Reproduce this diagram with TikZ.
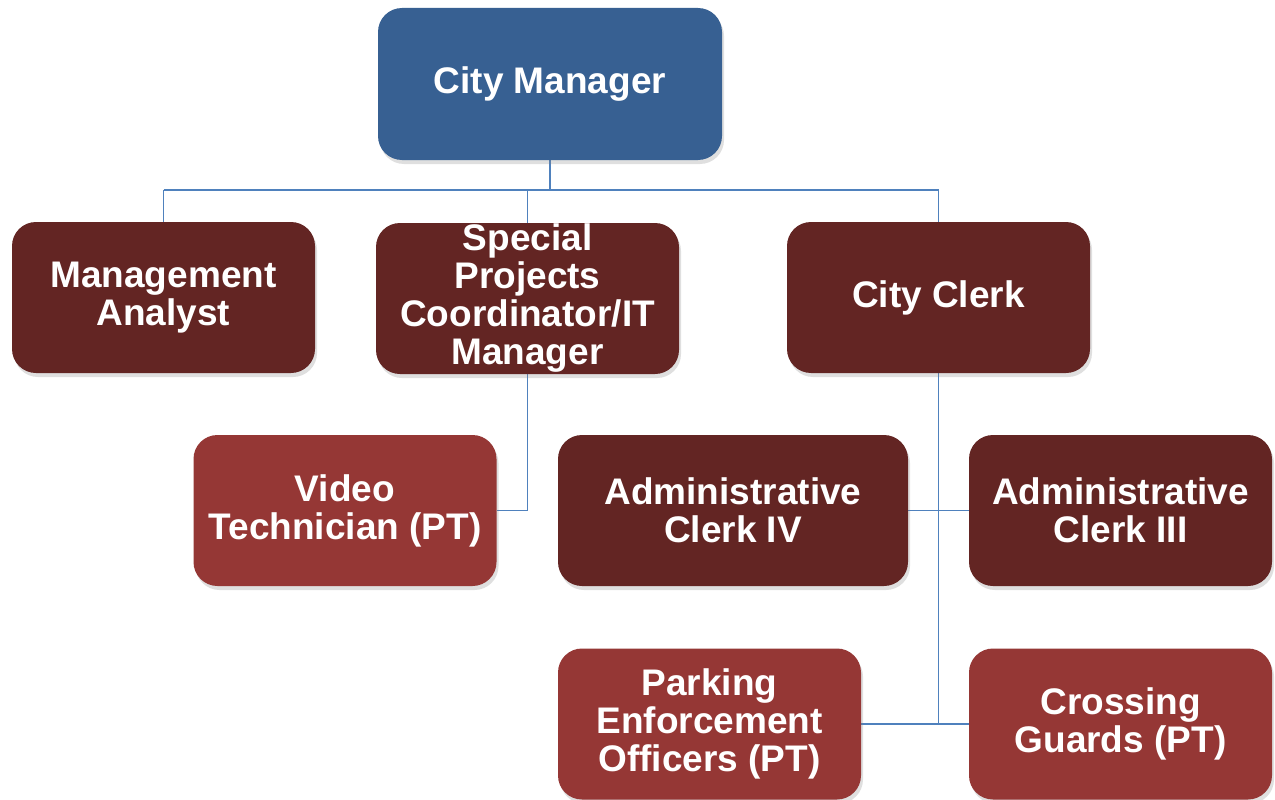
\documentclass[tikz,border=0pt]{standalone}
\usepackage{fontspec}
\setmainfont{Liberation Sans}
\usetikzlibrary{shadows,backgrounds}
\definecolor{topblue}{HTML}{376092}
\definecolor{darkred}{HTML}{632523}
\definecolor{lightred}{HTML}{953735}
\definecolor{linkblue}{HTML}{4F81BD}
\begin{document}
\begin{tikzpicture}[x=1pt,y=1pt,
  box/.style={rounded corners=24pt, inner sep=0pt, text=white,
    font=\bfseries\fontsize{37}{38}\selectfont, align=center,
    minimum width=303pt, minimum height=151pt,
    drop shadow={shadow xshift=2pt, shadow yshift=-4pt, opacity=0.25}},
  headbox/.style={box, fill=topblue, minimum width=344pt, minimum height=152pt},
  rolebox/.style={box, fill=darkred},
  ptbox/.style={box, fill=lightred},
  link/.style={draw=linkblue, line width=1.8pt}]
\useasboundingbox (0,0) rectangle (1275,-800);
\begin{scope}[on background layer]
\fill[white] (0,0) rectangle (1275,-800);
\end{scope}

% top of the chart
\node[headbox] (cm) at (550,-84) {City Manager};

% direct reports
\node[rolebox] (ma) at (163.5,-297.5) {Management\\Analyst};
\node[rolebox] (sp) at (527.5,-298.5) {Special\\Projects\\Coordinator/IT\\Manager};
\node[rolebox] (cc) at (938.5,-297.5) {City Clerk};

% second level
\node[ptbox] (vt) at (345,-510.5) {Video\\Technician (PT)};
\node[rolebox, minimum width=350pt] (ac4) at (733,-510.5) {Administrative\\Clerk IV};
\node[rolebox] (ac3) at (1120.5,-510.5) {Administrative\\Clerk III};

% third level
\node[ptbox] (peo) at (709.5,-724) {Parking\\Enforcement\\Officers (PT)};
\node[ptbox] (cg) at (1120.5,-724) {Crossing\\Guards (PT)};

% reporting lines, kept behind the boxes
\begin{scope}[on background layer]
\coordinate (bus) at (0,-190);
\draw[link] (cm.south) -- (cm.south |- bus);
\draw[link] (ma.north |- bus) -- (cc.north |- bus);
\draw[link] (ma.north |- bus) -- (ma.north);
\draw[link] (sp.north |- bus) -- (sp.north);
\draw[link] (cc.north |- bus) -- (cc.north);
\draw[link] (sp.south) |- (vt.east);
\draw[link] (cc.south) |- (ac4.east);
\draw[link] (cc.south) |- (ac3.west);
\draw[link] (cc.south) |- (peo.east);
\draw[link] (cc.south) |- (cg.west);
\end{scope}
\end{tikzpicture}
\end{document}
